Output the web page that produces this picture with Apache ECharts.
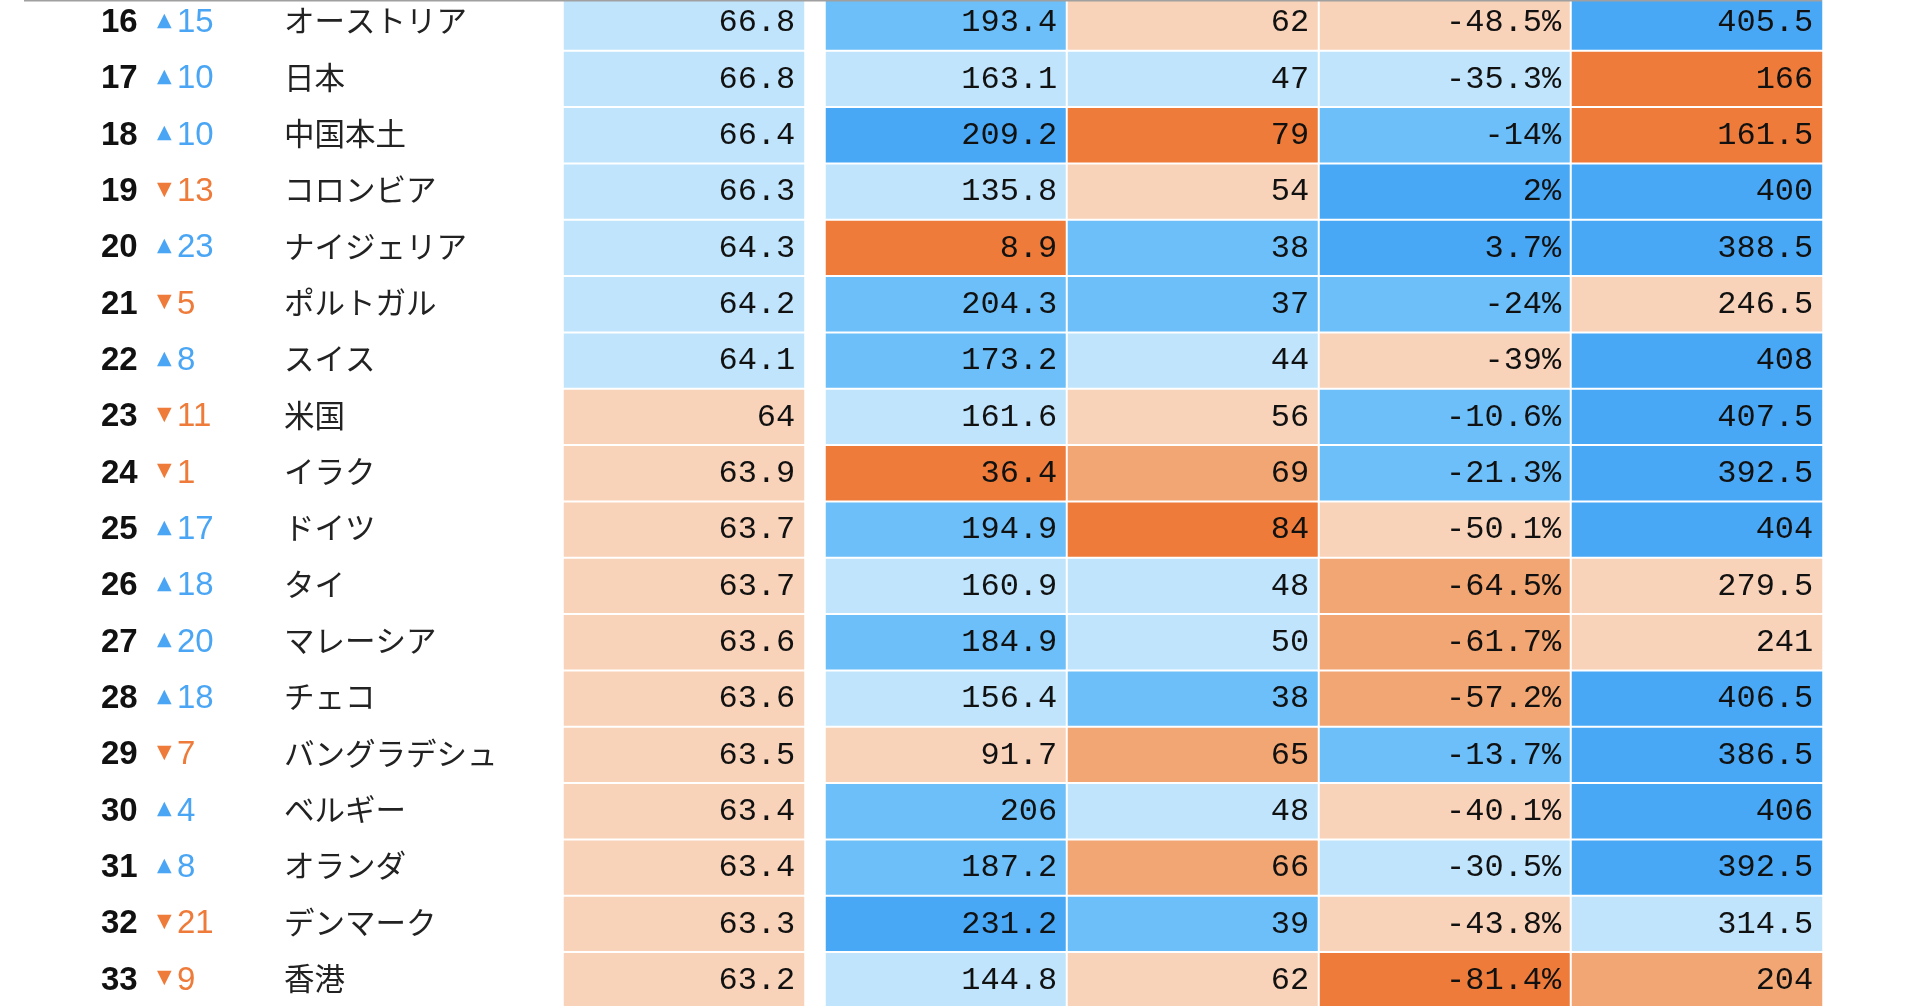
<!DOCTYPE html>
<html lang="ja">

<head>
    <meta charset="UTF-8" />
    <meta name="viewport" content="width=device-width, initial-scale=1.0" />
    <title>ランキング</title>
    <script src="https://cdn.jsdelivr.net/npm/echarts@6.0.0/dist/echarts.min.js"></script>
    <style>
        html, body { margin: 0; padding: 0; background: #fff; }
    </style>
</head>

<body>
    <div id="main" style="width: 1914px; height: 1006px;"></div>

    <script>
        // rows 16-33 of the ranking table
        const ranks = [16, 17, 18, 19, 20, 21, 22, 23, 24, 25, 26, 27, 28, 29, 30, 31, 32, 33];
        const changes = [15, 10, 10, -13, 23, -5, 8, -11, -1, 17, 18, 20, 18, -7, 4, 8, -21, -9];
        const names = ['オーストリア', '日本', '中国本土', 'コロンビア', 'ナイジェリア', 'ポルトガル', 'スイス', '米国', 'イラク',
            'ドイツ', 'タイ', 'マレーシア', 'チェコ', 'バングラデシュ', 'ベルギー', 'オランダ', 'デンマーク', '香港'];
        const scores = [66.8, 66.8, 66.4, 66.3, 64.3, 64.2, 64.1, 64, 63.9, 63.7, 63.7, 63.6, 63.6, 63.5, 63.4, 63.4, 63.3, 63.2];
        const colB = [193.4, 163.1, 209.2, 135.8, 8.9, 204.3, 173.2, 161.6, 36.4, 194.9, 160.9, 184.9, 156.4, 91.7, 206, 187.2, 231.2, 144.8];
        const colC = [62, 47, 79, 54, 38, 37, 44, 56, 69, 84, 48, 50, 38, 65, 48, 66, 39, 62];
        const colD = [-48.5, -35.3, -14, 2, 3.7, -24, -39, -10.6, -21.3, -50.1, -64.5, -61.7, -57.2, -13.7, -40.1, -30.5, -43.8, -81.4];
        const colE = [405.5, 166, 161.5, 400, 388.5, 246.5, 408, 407.5, 392.5, 404, 279.5, 241, 406.5, 386.5, 406, 392.5, 314.5, 204];

        const SB = '#48a8f6', MB = '#6cbff8', LB = '#bfe4fb';
        const PE = '#f8d2b9', MO = '#f2a673', SO = '#ee7b39';
        const UP = '#4aa6f5', DOWN = '#ee7b39';

        const rowKeys = ranks.map(String);
        const myChart = echarts.init(document.getElementById('main'));

        const gridTop = -5.3, gridHeight = 1014;
        const toCells = (arr, x) => arr.map((v, i) => [x, i, v]);

        const cellLabel = (suffix) => ({
            show: true,
            position: 'insideRight',
            distance: 11,
            fontFamily: 'Liberation Mono',
            fontSize: 32,
            color: '#111',
            formatter: (p) => p.value[2] + suffix
        });

        const hiddenY = (gi) => ({
            type: 'category', gridIndex: gi, data: rowKeys, inverse: true,
            axisLine: { show: false }, axisTick: { show: false }, axisLabel: { show: false }, splitLine: { show: false }
        });
        const hiddenX = (gi, n) => ({
            type: 'category', gridIndex: gi, data: Array.from({ length: n }, (_, k) => 'c' + k),
            show: false
        });

        const option = {
            backgroundColor: '#fff',
            animation: false,
            grid: [
                { left: 563, width: 242, top: gridTop, height: gridHeight, outerBoundsMode: 'none' },
                { left: 825, width: 242, top: gridTop, height: gridHeight, outerBoundsMode: 'none' },
                { left: 1067, width: 756, top: gridTop, height: gridHeight, outerBoundsMode: 'none' }
            ],
            xAxis: [hiddenX(0, 1), hiddenX(1, 1), hiddenX(2, 3)],
            yAxis: [
                {
                    type: 'category', gridIndex: 0, data: rowKeys, inverse: true,
                    axisLine: { show: false }, axisTick: { show: false }, splitLine: { show: false },
                    axisLabel: {
                        interval: 0,
                        align: 'left',
                        margin: 462,
                        formatter: (value, idx) => {
                            const c = changes[idx];
                            const up = c >= 0;
                            return '{rank|' + ranks[idx] + '}'
                                + (up ? '{triU|▲}{numU|' : '{triD|▼}{numD|') + Math.abs(c) + '}'
                                + '{name|' + names[idx] + '}';
                        },
                        rich: {
                            rank: { width: 56, fontFamily: 'Liberation Sans', fontWeight: 'bold', fontSize: 33, color: '#111' },
                            triU: { width: 20, fontFamily: 'DejaVu Sans', fontSize: 19, color: UP, padding: [0, 0, 4, 0] },
                            triD: { width: 20, fontFamily: 'DejaVu Sans', fontSize: 19, color: DOWN, padding: [0, 0, 4, 0] },
                            numU: { width: 107, fontFamily: 'Liberation Sans', fontSize: 33, color: UP },
                            numD: { width: 107, fontFamily: 'Liberation Sans', fontSize: 33, color: DOWN },
                            name: { fontFamily: 'Noto Sans CJK JP', fontSize: 30.5, color: '#222', padding: [0, 0, 4, 0] }
                        }
                    }
                },
                hiddenY(1),
                hiddenY(2)
            ],
            visualMap: [
                { show: false, seriesIndex: 0, type: 'piecewise', dimension: 2,
                    pieces: [{ gte: 64.05, color: LB }, { lt: 64.05, color: PE }] },
                { show: false, seriesIndex: 1, type: 'piecewise', dimension: 2,
                    pieces: [{ gte: 207, color: SB }, { gte: 170, lt: 207, color: MB }, { gte: 120, lt: 170, color: LB },
                        { gte: 70, lt: 120, color: PE }, { gte: 45, lt: 70, color: MO }, { lt: 45, color: SO }] },
                { show: false, seriesIndex: 2, type: 'piecewise', dimension: 2,
                    pieces: [{ lt: 36, color: SB }, { gte: 36, lt: 41, color: MB }, { gte: 41, lt: 52, color: LB },
                        { gte: 52, lt: 63.5, color: PE }, { gte: 63.5, lt: 75, color: MO }, { gte: 75, color: SO }] },
                { show: false, seriesIndex: 3, type: 'piecewise', dimension: 2,
                    pieces: [{ gte: 0, color: SB }, { gte: -27, lt: 0, color: MB }, { gte: -37, lt: -27, color: LB },
                        { gte: -52, lt: -37, color: PE }, { gte: -72, lt: -52, color: MO }, { lt: -72, color: SO }] },
                { show: false, seriesIndex: 4, type: 'piecewise', dimension: 2,
                    pieces: [{ gte: 360, color: SB }, { gte: 330, lt: 360, color: MB }, { gte: 300, lt: 330, color: LB },
                        { gte: 225, lt: 300, color: PE }, { gte: 185, lt: 225, color: MO }, { lt: 185, color: SO }] }
            ],
            series: [
                { type: 'heatmap', xAxisIndex: 0, yAxisIndex: 0, data: toCells(scores, 0), label: cellLabel(''),
                    itemStyle: { borderColor: '#fff', borderWidth: 2 } },
                { type: 'heatmap', xAxisIndex: 1, yAxisIndex: 1, data: toCells(colB, 0), label: cellLabel(''),
                    itemStyle: { borderColor: '#fff', borderWidth: 2 } },
                { type: 'heatmap', xAxisIndex: 2, yAxisIndex: 2, data: toCells(colC, 0), label: cellLabel(''),
                    itemStyle: { borderColor: '#fff', borderWidth: 2 } },
                { type: 'heatmap', xAxisIndex: 2, yAxisIndex: 2, data: toCells(colD, 1), label: cellLabel('%'),
                    itemStyle: { borderColor: '#fff', borderWidth: 2 } },
                { type: 'heatmap', xAxisIndex: 2, yAxisIndex: 2, data: toCells(colE, 2), label: cellLabel(''),
                    itemStyle: { borderColor: '#fff', borderWidth: 2 } }
            ],
            graphic: [
                { type: 'rect', z: 100, shape: { x: 24, y: 0, width: 1798, height: 1.5 }, style: { fill: '#a0a0a0' } }
            ]
        };

        myChart.setOption(option);
    </script>
</body>

</html>
